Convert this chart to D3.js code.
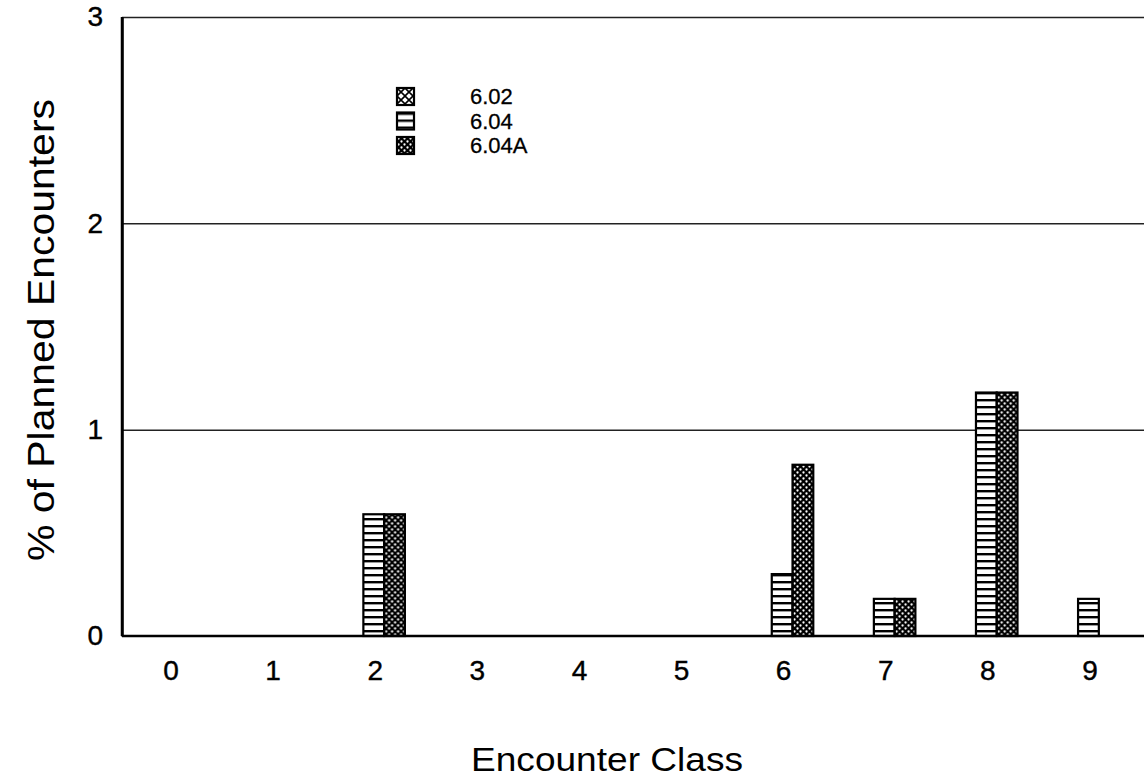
<!DOCTYPE html>
<html>
<head>
<meta charset="utf-8">
<script src="https://cdn.jsdelivr.net/npm/d3@7"></script>
<style>
  html, body { margin: 0; padding: 0; background: #fff; }
  svg { display: block; font-family: "Liberation Sans", Arial, Helvetica, sans-serif; }
</style>
</head>
<body>
<svg id="chart" width="1144" height="780"></svg>
<script>
// ---- data ----
const categories = ["0", "1", "2", "3", "4", "5", "6", "7", "8", "9"];
const seriesNames = ["6.02", "6.04", "6.04A"];
const values602  = [0, 0, 0,    0, 0, 0, 0,    0,    0,    0];
const values604  = [0, 0, 0.59, 0, 0, 0, 0.30, 0.18, 1.18, 0.18];
const values604A = [0, 0, 0.59, 0, 0, 0, 0.83, 0.18, 1.18, 0];
const yTickValues = [0, 1, 2, 3];
const yTitle = "% of Planned Encounters";
const xTitle = "Encounter Class";

const seriesValues = { "6.02": values602, "6.04": values604, "6.04A": values604A };
const patternIds = { "6.02": "pat602", "6.04": "pat604", "6.04A": "pat604A" };

const svg = d3.select("#chart");
const mLeft = 122, mRight = 1141, mTop = 17, mBottom = 636;

// ---- patterns ----
const defs = svg.append("defs");
const p1 = defs.append("pattern").attr("id", "pat602").attr("patternUnits", "userSpaceOnUse")
  .attr("width", 8).attr("height", 8);
p1.append("rect").attr("width", 8).attr("height", 8).attr("fill", "#fff");
p1.append("path").attr("d", "M0,0L8,8M8,0L0,8").attr("stroke", "#000").attr("stroke-width", 1.6);

const p2 = defs.append("pattern").attr("id", "pat604").attr("patternUnits", "userSpaceOnUse")
  .attr("width", 7).attr("height", 7);
p2.append("rect").attr("width", 7).attr("height", 7).attr("fill", "#fff");
p2.append("rect").attr("y", 0).attr("width", 7).attr("height", 2.4).attr("fill", "#000");

const p3 = defs.append("pattern").attr("id", "pat604A").attr("patternUnits", "userSpaceOnUse")
  .attr("width", 6).attr("height", 6);
p3.append("rect").attr("width", 6).attr("height", 6).attr("fill", "#000");
p3.append("circle").attr("cx", 1.5).attr("cy", 1.5).attr("r", 1.15).attr("fill", "#fff");
p3.append("circle").attr("cx", 4.5).attr("cy", 4.5).attr("r", 1.15).attr("fill", "#fff");

// ---- scales ----
const x0 = d3.scaleBand().domain(categories).range([mLeft - 2, mRight]).paddingInner(0.39).paddingOuter(0.195);
const x1 = d3.scaleBand().domain(seriesNames).range([0, x0.bandwidth()]);
const y = d3.scaleLinear().domain([0, 3]).range([mBottom, mTop]);

// ---- gridlines ----
svg.append("g")
  .attr("transform", `translate(${mLeft},0)`)
  .call(d3.axisLeft(y).tickValues(yTickValues.filter(d => d > 0)).tickSize(-(1150 - mLeft)).tickFormat(""))
  .call(g => g.select(".domain").remove())
  .call(g => g.selectAll("line").attr("stroke", "#222").attr("stroke-width", 1.5));

// ---- bars ----
const groups = svg.append("g").selectAll("g").data(categories).join("g")
  .attr("transform", d => `translate(${x0(d) - 1.5},0)`);
groups.selectAll("rect")
  .data((c, i) => seriesNames.map(s => ({ s, v: seriesValues[s][i] })).filter(d => d.v > 0))
  .join("rect")
  .attr("x", d => x1(d.s))
  .attr("width", x1.bandwidth())
  .attr("y", d => y(d.v))
  .attr("height", d => y(0) - y(d.v))
  .attr("fill", d => `url(#${patternIds[d.s]})`)
  .attr("stroke", "#000").attr("stroke-width", 2.2);

// ---- axes ----
const yAxis = svg.append("g")
  .attr("transform", `translate(${mLeft},0)`)
  .call(d3.axisLeft(y).tickValues(yTickValues).tickSize(0).tickPadding(19).tickFormat(d3.format("d")));
yAxis.select(".domain").attr("stroke", "#000").attr("stroke-width", 2.5);
yAxis.attr("font-size", 28).attr("font-family", "Liberation Sans, Arial, sans-serif");
yAxis.selectAll("text").attr("fill", "#000").attr("stroke", "#000").attr("stroke-width", 0.4);

const xAxis = svg.append("g")
  .attr("transform", `translate(0,${mBottom})`)
  .call(d3.axisBottom(x0).tickSize(0).tickPadding(24));
xAxis.select(".domain").remove();
xAxis.attr("font-size", 28).attr("font-family", "Liberation Sans, Arial, sans-serif");
xAxis.selectAll("text").attr("fill", "#000").attr("stroke", "#000").attr("stroke-width", 0.4);

svg.append("line").attr("x1", mLeft).attr("x2", 1150).attr("y1", mBottom).attr("y2", mBottom)
  .attr("stroke", "#000").attr("stroke-width", 2.5);
svg.append("line").attr("x1", mLeft).attr("x2", mLeft).attr("y1", mTop).attr("y2", mBottom)
  .attr("stroke", "#000").attr("stroke-width", 2.5);

// ---- titles ----
svg.append("text")
  .attr("transform", `translate(54,${(98 + 562) / 2}) rotate(-90)`)
  .attr("text-anchor", "middle").attr("font-size", 37)
  .attr("textLength", 462).attr("lengthAdjust", "spacingAndGlyphs")
  .text(yTitle);
svg.append("text")
  .attr("x", 607).attr("y", 771)
  .attr("text-anchor", "middle").attr("font-size", 34)
  .attr("textLength", 272).attr("lengthAdjust", "spacingAndGlyphs")
  .text(xTitle);

// ---- legend ----
const legend = svg.append("g").attr("transform", "translate(397,88)");
const items = legend.selectAll("g").data(seriesNames).join("g")
  .attr("transform", (d, i) => `translate(0,${i * 24.5})`);
items.append("rect").attr("width", 17).attr("height", 17)
  .attr("fill", d => `url(#${patternIds[d]})`).attr("stroke", "#000").attr("stroke-width", 2.2);
items.append("text").attr("x", 73).attr("y", 8.5).attr("dy", "0.36em")
  .attr("font-size", 22).attr("stroke", "#000").attr("stroke-width", 0.3).text(d => d);
</script>
</body>
</html>
